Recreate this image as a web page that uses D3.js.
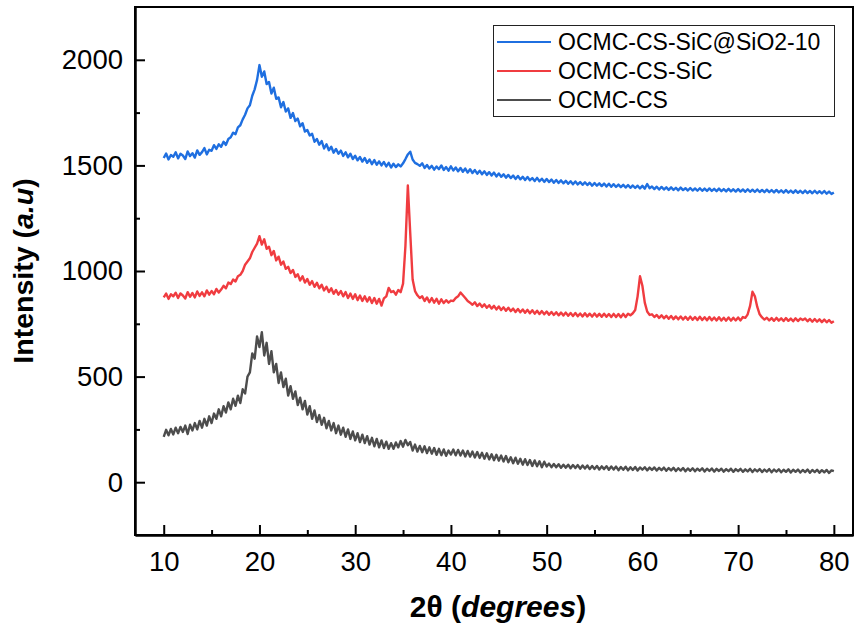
<!DOCTYPE html>
<html>
<head>
<meta charset="utf-8">
<script src="https://cdn.jsdelivr.net/npm/d3@7/dist/d3.min.js"></script>
<style>
  body { margin: 0; background: #fff; }
  svg { display: block; font-family: "Liberation Sans", Arial, sans-serif; }
</style>
</head>
<body>
<svg id="chart" width="855" height="629"></svg>
<script>
// 2θ grid (degrees), step 0.25 from 10 to 80
const twoTheta = d3.range(0, 281).map(i => 10 + i * 0.25);

const seriesNames = ["OCMC-CS-SiC@SiO2-10", "OCMC-CS-SiC", "OCMC-CS"];

const blueValues = [
  1535,1556,1528,1549, 1541,1562,1533,1555, 1547,1530,1566,1544, 1558,1537,1571,1550,
  1563,1582,1552,1574, 1569,1596,1578,1600, 1588,1612,1597,1625, 1633,1655,1648,1680,
  1690,1718,1740,1770, 1785,1830,1860,1905, 1975,1920,1945,1885, 1895,1840,1868,1815,
  1822,1775,1800,1755, 1770,1725,1748,1710, 1722,1685,1700,1660, 1668,1642,1650,1612,
  1625,1598,1615,1580, 1600,1572,1588,1560, 1578,1555,1570,1545, 1562,1538,1555,1530,
  1546,1524,1540,1518, 1535,1512,1528,1506, 1525,1503,1519,1500, 1516,1495,1512,1490,
  1508,1492,1505,1495, 1510,1530,1552,1565, 1528,1512,1506,1498, 1510,1488,1502,1485,
  1498,1480,1495,1482, 1500,1478,1492,1475, 1496,1476,1490,1472, 1488,1470,1485,1466,
  1482,1464,1478,1461, 1475,1458,1472,1455, 1468,1452,1466,1448, 1462,1446,1458,1442,
  1455,1440,1452,1436, 1450,1434,1446,1431, 1445,1430,1440,1426, 1441,1425,1437,1422,
  1436,1421,1433,1418, 1431,1417,1429,1415, 1427,1413,1425,1411, 1424,1410,1421,1408,
  1420,1407,1418,1404, 1417,1404,1415,1402, 1414,1400,1413,1399, 1411,1398,1409,1397,
  1408,1395,1407,1394, 1405,1393,1404,1391, 1403,1390,1412,1392, 1400,1388,1399,1386,
  1398,1386,1396,1384, 1396,1384,1394,1382, 1395,1383,1392,1381, 1393,1381,1391,1380,
  1392,1380,1390,1379, 1391,1379,1389,1378, 1390,1378,1388,1377, 1389,1377,1387,1376,
  1388,1376,1386,1375, 1387,1375,1385,1374, 1386,1374,1384,1373, 1385,1373,1383,1372,
  1384,1372,1382,1371, 1383,1371,1381,1370, 1382,1370,1380,1369, 1381,1369,1379,1368,
  1380,1368,1378,1367, 1379,1366,1376,1365, 1372
];

const redValues = [
  875,893,868,890, 880,897,872,894, 884,870,900,878, 896,875,903,882,
  899,880,908,888, 905,890,915,898, 912,930,918,945, 938,960,950,975,
  982,1000,1030,1045, 1060,1090,1110,1130, 1165,1125,1150,1105, 1115,1075,1095,1050,
  1068,1030,1045,1010, 1020,990,1005,972, 985,955,975,945, 962,935,952,925,
  944,918,935,908, 925,900,918,892, 910,888,905,880, 900,872,893,868,
  890,862,884,858, 880,855,876,848, 872,845,868,836, 870,880,920,900,
  905,888,910,900, 940,1120,1405,1180, 960,905,885,872, 880,858,875,852,
  872,850,868,845, 866,848,862,850, 860,858,872,880, 898,885,872,858,
  850,840,852,834, 846,830,842,826, 838,822,835,818, 832,815,828,812,
  826,810,822,806, 820,805,818,802, 816,800,814,798, 812,796,810,795,
  808,793,806,792, 805,790,803,789, 803,788,801,787, 801,786,799,785,
  800,785,798,784, 799,784,797,783, 798,783,796,782, 797,782,796,781,
  797,782,798,790, 800,815,880,975, 930,850,808,792, 795,782,792,778,
  790,776,788,774, 787,772,785,771, 785,770,783,769, 784,769,782,768,
  783,768,781,767, 782,767,780,766, 781,766,779,765, 780,765,779,766,
  780,766,782,778, 795,835,902,880, 830,795,780,770, 779,766,777,764,
  778,765,776,763, 777,764,775,762, 776,763,775,768, 775,762,773,760,
  773,760,771,758, 770,757,768,755, 762
];

const grayValues = [
  215,248,222,252, 226,258,232,262, 238,268,228,272, 245,280,250,290,
  258,300,268,312, 280,325,300,345, 312,360,330,378, 345,395,362,410,
  375,440,420,500, 520,610,585,690, 640,710,600,660, 560,620,520,560,
  470,520,450,490, 410,455,395,430, 365,400,345,385, 320,360,300,340,
  285,318,272,305, 255,290,245,280, 232,268,225,258, 215,250,205,240,
  198,232,190,225, 185,218,178,210, 170,205,165,198, 162,192,158,185,
  158,188,165,195, 168,200,175,190, 150,178,145,172, 142,170,138,165,
  135,162,130,158, 128,155,125,150, 131,155,127,153, 126,150,122,148,
  121,145,117,143, 115,139,111,137, 108,132,104,130, 102,126,98,124,
  94,118,90,116, 87,111,83,109, 81,105,77,103, 75,99,71,97,
  74,88,71,86, 71,85,68,83, 69,83,66,81, 67,81,64,79,
  65,79,62,77, 63,77,60,75, 62,76,59,74, 60,74,57,72,
  59,73,56,71, 58,72,55,70, 59,71,56,69, 58,70,55,68,
  57,69,54,67, 56,68,53,66, 55,67,52,65, 54,66,52,64,
  54,66,51,64, 53,65,50,63, 53,64,50,62, 52,64,49,62,
  52,63,49,61, 51,63,48,61, 51,62,48,60, 50,62,47,60,
  50,61,47,59, 49,61,46,59, 49,60,46,58, 48,60,45,58,
  48,59,45,57, 47,58,44,56, 52
];

const seriesColors = ["#1f6fe0", "#f03c40", "#4d4d4d"];

const xTickValues = [10, 20, 30, 40, 50, 60, 70, 80];
const xMinorTickValues = [15, 25, 35, 45, 55, 65, 75];
const yTickValues = [0, 500, 1000, 1500, 2000];
const yMinorTickValues = [250, 750, 1250, 1750];

// ---- layout ----
const svg = d3.select("#chart");
const mLeft = 135, mRight = 853, mTop = 7, mBottom = 535;

const x = d3.scaleLinear().domain([7, 82]).range([mLeft, mRight]);
const y = d3.scaleLinear().domain([-250, 2250]).range([mBottom, mTop]);

svg.append("clipPath").attr("id", "clip")
  .append("rect").attr("x", mLeft).attr("y", mTop).attr("width", mRight - mLeft).attr("height", mBottom - mTop);

const allSeries = [blueValues, redValues, grayValues];
const line = d3.line().x((d, i) => x(twoTheta[i])).y(d => y(d));

const plot = svg.append("g").attr("clip-path", "url(#clip)");
[2, 1, 0].forEach(k => {
  plot.append("path")
    .datum(allSeries[k])
    .attr("fill", "none")
    .attr("stroke", seriesColors[k])
    .attr("stroke-width", 2.4)
    .attr("stroke-linejoin", "round")
    .attr("d", line);
});

// axes
const xAxis = svg.append("g").attr("transform", `translate(0,${mBottom})`)
  .call(d3.axisBottom(x).tickValues(xTickValues).tickFormat(d3.format("d"))
    .tickSizeInner(-10).tickSizeOuter(0).tickPadding(16));
const xMinor = svg.append("g").attr("transform", `translate(0,${mBottom})`)
  .call(d3.axisBottom(x).tickValues(xMinorTickValues).tickFormat("")
    .tickSizeInner(-5).tickSizeOuter(0));
const yAxis = svg.append("g").attr("transform", `translate(${mLeft},0)`)
  .call(d3.axisLeft(y).tickValues(yTickValues).tickFormat(d3.format("d"))
    .tickSizeInner(-10).tickSizeOuter(0).tickPadding(12));
const yMinor = svg.append("g").attr("transform", `translate(${mLeft},0)`)
  .call(d3.axisLeft(y).tickValues(yMinorTickValues).tickFormat("")
    .tickSizeInner(-5).tickSizeOuter(0));

[xAxis, xMinor, yAxis, yMinor].forEach(g => {
  g.selectAll("path.domain").attr("stroke", "#000").attr("stroke-width", 2);
  g.selectAll(".tick line").attr("stroke", "#000").attr("stroke-width", 2);
  g.selectAll(".tick text").attr("fill", "#000")
    .style("font-family", '"Liberation Sans", Arial, sans-serif').style("font-size", "27.5px");
});

// frame
svg.append("rect").attr("x", mLeft).attr("y", mTop).attr("width", mRight - mLeft).attr("height", mBottom - mTop)
  .attr("fill", "none").attr("stroke", "#000").attr("stroke-width", 2);

// axis titles
const xt = svg.append("text").attr("x", 498).attr("y", 617).attr("text-anchor", "middle")
  .style("font-size", "30px").style("font-weight", "bold").attr("fill", "#000");
xt.append("tspan").text("2θ (");
xt.append("tspan").style("font-style", "italic").text("degrees");
xt.append("tspan").text(")");

const yt = svg.append("text").attr("transform", "translate(33,271) rotate(-90)").attr("text-anchor", "middle")
  .style("font-size", "28.5px").style("font-weight", "bold").attr("fill", "#000");
yt.append("tspan").text("Intensity (");
yt.append("tspan").style("font-style", "italic").text("a.u");
yt.append("tspan").text(")");

// legend
const lg = svg.append("g");
lg.append("rect").attr("x", 493.5).attr("y", 25.5).attr("width", 341).attr("height", 91)
  .attr("fill", "#fff").attr("stroke", "#222").attr("stroke-width", 1);
seriesNames.forEach((name, i) => {
  const cy = 42 + i * 29;
  lg.append("line").attr("x1", 497).attr("x2", 551).attr("y1", cy).attr("y2", cy)
    .attr("stroke", seriesColors[i]).attr("stroke-width", 2);
  lg.append("text").attr("x", 558).attr("y", cy + 7.5).style("font-size", "23px").attr("fill", "#000")
    .text(name);
});
</script>
</body>
</html>
